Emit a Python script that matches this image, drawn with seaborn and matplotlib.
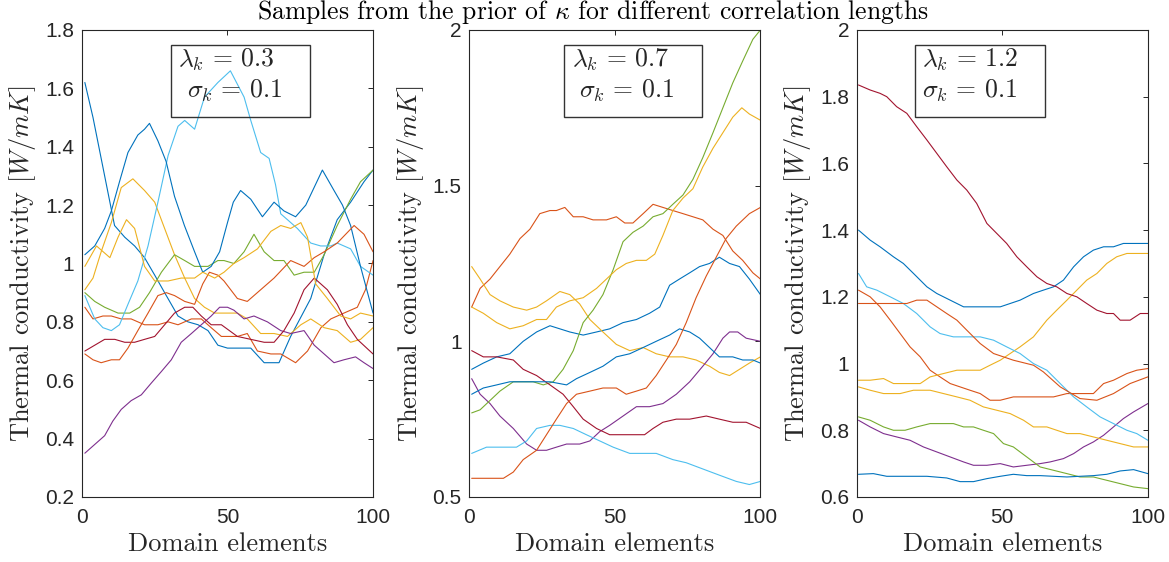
import numpy as np
import pandas as pd
import matplotlib
matplotlib.use("Agg")
import matplotlib.pyplot as plt
import seaborn as sns
from matplotlib.patches import Rectangle

# MATLAB default line colour order
BLUE, ORANGE, YELLOW, PURPLE = "#0072BD", "#D95319", "#EDB120", "#7E2F8E"
GREEN, CYAN, DARKRED = "#77AC30", "#4DBEEE", "#A2142F"

# ---------------- panel 1 (lambda = 0.3) ----------------
p1_blue_a_x = [1, 3.8, 7.2, 11.2, 14.7, 18.1, 21.5, 25, 28.4, 33, 36.4, 39.9, 43.3, 46.7, 50, 53.4, 58, 62.6, 67.7, 71.7, 78.6, 83.2, 87.7, 92.3, 96.9, 100]
p1_blue_a_y = [1.62, 1.50, 1.33, 1.13, 1.09, 1.06, 1.02, 0.96, 0.90, 0.82, 0.80, 0.79, 0.77, 0.72, 0.71, 0.71, 0.71, 0.66, 0.66, 0.75, 0.88, 1.03, 1.15, 1.21, 1.28, 1.32]
p1_orange_a_x = [1, 3.8, 7.2, 10.1, 13.5, 16.9, 21.5, 26.1, 29.6, 33, 37.6, 41, 44.4, 47.9, 53.4, 56.8, 60.3, 64.9, 68.3, 73.4, 77.5, 82.1, 85.5, 90, 94.6, 97.4, 100]
p1_orange_a_y = [0.85, 0.81, 0.82, 0.82, 0.81, 0.81, 0.79, 0.79, 0.80, 0.79, 0.81, 0.81, 0.78, 0.75, 0.75, 0.76, 0.70, 0.69, 0.69, 0.66, 0.70, 0.78, 0.81, 0.83, 0.85, 0.91, 1.01]
p1_yellow_a_x = [1, 3.8, 6.6, 10.1, 13.5, 17.5, 21.5, 25, 28.4, 31.8, 35.3, 38.7, 42.1, 45.6, 48.8, 53.4, 56.8, 61.4, 66, 70.6, 75.2, 78.6, 83.2, 87.7, 92.3, 95.7, 100]
p1_yellow_a_y = [0.91, 0.95, 1.04, 1.14, 1.26, 1.29, 1.25, 1.21, 1.12, 1.03, 0.95, 0.88, 0.85, 0.83, 0.83, 0.83, 0.81, 0.76, 0.76, 0.75, 0.79, 0.81, 0.78, 0.77, 0.73, 0.74, 0.78]
p1_purple_x = [1, 4.4, 7.8, 10.6, 13.5, 16.9, 20.4, 23.8, 27.3, 30.7, 34.1, 37.6, 41, 44.4, 47.3, 50, 52.2, 55.7, 59.1, 63.7, 68.3, 71.7, 76.3, 79.8, 83.2, 86.6, 90, 94, 96.9, 100]
p1_purple_y = [0.35, 0.38, 0.41, 0.46, 0.50, 0.53, 0.55, 0.59, 0.63, 0.67, 0.73, 0.76, 0.79, 0.82, 0.85, 0.85, 0.84, 0.81, 0.82, 0.80, 0.77, 0.76, 0.77, 0.72, 0.69, 0.66, 0.67, 0.68, 0.66, 0.64]
p1_green_x = [1, 4.4, 7.8, 12.4, 16.4, 19.8, 23.2, 27.3, 31.8, 35.3, 38.7, 43.3, 46.7, 48.8, 52.2, 55.7, 59.1, 62.6, 66, 69.4, 72.9, 76.3, 79.8, 83.2, 87.7, 92.3, 95.7, 100]
p1_green_y = [0.90, 0.87, 0.85, 0.83, 0.83, 0.85, 0.90, 0.97, 1.03, 1.01, 0.99, 0.99, 1.01, 1.01, 1.00, 1.04, 1.10, 1.04, 1.01, 1.01, 0.96, 0.97, 0.97, 1.03, 1.13, 1.22, 1.28, 1.32]
p1_cyan_x = [1, 4.4, 7.2, 10.1, 12.9, 15.8, 19.2, 22.7, 26.1, 29.6, 33, 35.3, 38.7, 42.1, 46.7, 51, 55.7, 58, 61.4, 64.3, 66.5, 68.3, 70.6, 74, 78.6, 82, 85.5, 87.7, 92.3, 95.7, 100]
p1_cyan_y = [0.89, 0.81, 0.78, 0.77, 0.79, 0.86, 0.94, 1.06, 1.21, 1.37, 1.47, 1.49, 1.46, 1.57, 1.62, 1.66, 1.57, 1.49, 1.38, 1.36, 1.27, 1.17, 1.15, 1.12, 1.07, 1.06, 1.06, 1.07, 1.05, 0.99, 0.96]
p1_darkred_x = [1, 4.4, 7.8, 11.3, 14.7, 18.1, 21.5, 25, 28.4, 31.8, 35.3, 38.1, 41, 44.4, 47.9, 53.4, 58, 62.6, 66, 69.4, 72.9, 76.3, 79.8, 84.3, 87.7, 91.2, 94.6, 100]
p1_darkred_y = [0.70, 0.72, 0.74, 0.74, 0.73, 0.73, 0.74, 0.75, 0.79, 0.83, 0.85, 0.85, 0.82, 0.79, 0.79, 0.75, 0.74, 0.73, 0.73, 0.77, 0.83, 0.91, 0.95, 0.91, 0.86, 0.79, 0.74, 0.69]
p1_blue_b_x = [1, 4.4, 7.8, 10.1, 12.9, 15.8, 19.2, 21.5, 23.2, 26.1, 28.9, 31.8, 35.2, 38.7, 41.5, 44.4, 47.3, 50, 52, 54.5, 58, 62, 66, 69.4, 73.4, 76.9, 82.6, 86.6, 89.5, 92.3, 95.7, 100]
p1_blue_b_y = [1.03, 1.06, 1.12, 1.18, 1.28, 1.38, 1.44, 1.46, 1.48, 1.42, 1.35, 1.23, 1.13, 1.04, 0.97, 0.99, 1.04, 1.14, 1.21, 1.25, 1.22, 1.16, 1.21, 1.18, 1.16, 1.20, 1.32, 1.25, 1.20, 1.13, 0.99, 0.83]
p1_orange_b_x = [1, 3.8, 6.6, 10.1, 12.9, 15.8, 19.2, 22.7, 26.1, 29, 31.8, 35.3, 38.7, 41.5, 43.8, 46.7, 48.8, 53.4, 56.8, 61.4, 66, 71.7, 76.3, 79.8, 83.2, 87.7, 93.5, 96.9, 100]
p1_orange_b_y = [0.69, 0.67, 0.66, 0.67, 0.67, 0.71, 0.77, 0.83, 0.89, 0.90, 0.89, 0.87, 0.86, 0.93, 0.97, 0.96, 0.94, 0.88, 0.87, 0.91, 0.95, 1.01, 0.99, 1.02, 1.04, 1.07, 1.13, 1.10, 1.04]
p1_yellow_b_x = [1, 5, 9.6, 12.4, 15.3, 18.1, 21.5, 25, 29.6, 34.1, 38.7, 41.5, 45.6, 48.8, 52.2, 55.7, 60.3, 64.9, 68.3, 71.7, 75.2, 77.5, 80.3, 84.3, 88.9, 92.3, 95.7, 100]
p1_yellow_b_y = [0.99, 1.06, 1.02, 1.09, 1.15, 1.12, 0.99, 0.94, 0.94, 0.95, 0.95, 0.97, 0.95, 0.97, 1.00, 1.02, 1.05, 1.11, 1.13, 1.12, 1.14, 1.09, 0.93, 0.88, 0.82, 0.81, 0.83, 0.82]

# ---------------- panel 2 (lambda = 0.7) ----------------
p2_blue_a_x = [0.8, 4.8, 9.4, 13.9, 18.5, 23.1, 27.7, 31.1, 34.5, 39.1, 43.7, 48.2, 52.8, 57.4, 61.9, 65.4, 68.8, 72.2, 75.7, 79.1, 82.5, 85.9, 89.4, 92.8, 96.2, 100]
p2_blue_a_y = [0.91, 0.93, 0.95, 0.96, 1.00, 1.03, 1.05, 1.04, 1.03, 1.02, 1.03, 1.04, 1.06, 1.07, 1.09, 1.11, 1.18, 1.20, 1.22, 1.24, 1.25, 1.27, 1.25, 1.24, 1.20, 1.15]
p2_orange_a_x = [0.8, 3.7, 7.1, 10.5, 13.9, 17.4, 20.8, 24.2, 27.7, 29.9, 32.8, 35.7, 39.1, 42.5, 47.1, 50.5, 53.4, 56.2, 59.7, 63.1, 66.5, 69.9, 73.4, 76.8, 80.2, 83.7, 87.1, 90.5, 93.9, 97.4, 100]
p2_orange_a_y = [1.11, 1.17, 1.20, 1.24, 1.28, 1.33, 1.36, 1.41, 1.42, 1.42, 1.43, 1.40, 1.40, 1.39, 1.39, 1.40, 1.38, 1.38, 1.41, 1.44, 1.43, 1.42, 1.41, 1.40, 1.39, 1.36, 1.34, 1.29, 1.26, 1.22, 1.20]
p2_yellow_a_x = [0.8, 3.7, 7.1, 10.5, 15.1, 19.7, 23.1, 26.5, 31.1, 34.5, 37.9, 41.4, 45.9, 50.5, 55.1, 59.7, 64.2, 68.8, 73.4, 77.9, 82.5, 85.9, 89.4, 92.8, 96.2, 100]
p2_yellow_a_y = [1.24, 1.20, 1.15, 1.13, 1.11, 1.10, 1.11, 1.13, 1.16, 1.15, 1.12, 1.07, 1.03, 0.99, 0.97, 0.98, 0.96, 0.95, 0.95, 0.94, 0.92, 0.90, 0.89, 0.91, 0.93, 0.95]
p2_purple_x = [0.8, 3.7, 7.1, 10.5, 15.1, 19.7, 23.1, 26.5, 29.9, 33.4, 37.9, 41.4, 44.8, 48.2, 52.8, 57.4, 61.9, 66.5, 71.1, 75.7, 80.2, 83.7, 87.1, 89.4, 92.2, 95.1, 100]
p2_purple_y = [0.88, 0.83, 0.80, 0.76, 0.72, 0.67, 0.65, 0.65, 0.66, 0.67, 0.67, 0.68, 0.71, 0.73, 0.76, 0.79, 0.79, 0.80, 0.83, 0.87, 0.92, 0.96, 1.01, 1.03, 1.03, 1.01, 1.00]
p2_green_x = [0.8, 3.7, 7.1, 10.5, 15.1, 18.5, 21.9, 25.4, 28.8, 32.2, 35.7, 39.1, 42.5, 45.9, 49.4, 52.8, 56.2, 59.7, 63.1, 66.5, 69.9, 73.4, 76.8, 80.2, 83.7, 87.1, 90.5, 93.9, 97.4, 100]
p2_green_y = [0.77, 0.78, 0.81, 0.84, 0.87, 0.87, 0.87, 0.86, 0.87, 0.91, 0.97, 1.06, 1.10, 1.15, 1.23, 1.32, 1.35, 1.37, 1.40, 1.41, 1.44, 1.47, 1.52, 1.59, 1.67, 1.75, 1.83, 1.90, 1.97, 2.00]
p2_cyan_x = [0.8, 5.9, 10.5, 16.2, 19.7, 23.1, 27.7, 31.1, 35.7, 40.2, 44.8, 49.4, 55.1, 59.7, 64.2, 69.9, 74.5, 80.2, 85.9, 91.7, 96.2, 100]
p2_cyan_y = [0.64, 0.66, 0.66, 0.66, 0.68, 0.72, 0.73, 0.73, 0.72, 0.70, 0.68, 0.66, 0.64, 0.64, 0.64, 0.62, 0.61, 0.59, 0.57, 0.55, 0.54, 0.55]
p2_darkred_x = [0.8, 4.8, 9.4, 15.1, 18.5, 23.1, 27.7, 32.2, 35.7, 39.1, 43.7, 48.2, 52.8, 56.2, 60.2, 63.1, 66.5, 71.1, 75.7, 81.4, 85.9, 90.5, 95.1, 100]
p2_darkred_y = [0.97, 0.95, 0.95, 0.94, 0.91, 0.89, 0.86, 0.83, 0.79, 0.75, 0.72, 0.70, 0.70, 0.70, 0.70, 0.72, 0.74, 0.75, 0.75, 0.76, 0.75, 0.74, 0.74, 0.72]
p2_blue_b_x = [0.8, 4.8, 9.4, 13.9, 18.5, 23.1, 27.7, 33.4, 36.8, 41.4, 45.9, 50.5, 55.1, 59.7, 64.2, 68.8, 72.2, 75.7, 79.1, 82.5, 85.9, 90.5, 93.9, 97.4, 100]
p2_blue_b_y = [0.83, 0.85, 0.86, 0.87, 0.87, 0.87, 0.87, 0.86, 0.88, 0.90, 0.92, 0.95, 0.96, 0.98, 1.00, 1.02, 1.04, 1.03, 1.01, 0.98, 0.95, 0.95, 0.94, 0.94, 0.93]
p2_orange_b_x = [0.8, 5.9, 11.7, 15.1, 18.5, 23.1, 26.5, 29.9, 33.4, 36.8, 41.4, 45.9, 50.5, 53.9, 57.4, 60.8, 64.2, 67.7, 71.1, 74.5, 77.9, 81.4, 84.8, 88.2, 91.7, 96.2, 100]
p2_orange_b_y = [0.56, 0.56, 0.56, 0.58, 0.62, 0.65, 0.70, 0.75, 0.80, 0.83, 0.84, 0.85, 0.85, 0.83, 0.84, 0.85, 0.89, 0.94, 0.99, 1.06, 1.14, 1.21, 1.27, 1.33, 1.37, 1.41, 1.43]
p2_yellow_b_x = [0.8, 4.8, 9.4, 13.9, 18.5, 23.1, 26.5, 29.9, 34.5, 39.1, 43.7, 47.1, 50.5, 53.9, 57.4, 60.8, 63.7, 66.5, 69.9, 73.4, 76.8, 80.2, 83.7, 87.1, 90.5, 93.6, 96.2, 100]
p2_yellow_b_y = [1.11, 1.09, 1.06, 1.04, 1.05, 1.07, 1.07, 1.11, 1.13, 1.14, 1.17, 1.20, 1.23, 1.25, 1.26, 1.26, 1.28, 1.34, 1.42, 1.46, 1.49, 1.56, 1.62, 1.67, 1.72, 1.75, 1.73, 1.71]

# ---------------- panel 3 (lambda = 1.2) ----------------
p3_blue_a_x = [0.6, 4.6, 8.0, 12.6, 16.0, 19.5, 24.1, 27.5, 32.1, 36.7, 41.2, 45.8, 49.3, 52.7, 56.1, 60.7, 64.1, 67.6, 71.0, 74.5, 77.9, 81.3, 84.8, 88.2, 91.6, 95.1, 97.4, 100]
p3_blue_a_y = [1.40, 1.37, 1.35, 1.32, 1.30, 1.27, 1.23, 1.21, 1.19, 1.17, 1.17, 1.17, 1.17, 1.18, 1.19, 1.21, 1.22, 1.23, 1.25, 1.29, 1.32, 1.34, 1.35, 1.35, 1.36, 1.36, 1.36, 1.36]
p3_orange_a_x = [0.6, 4.6, 8.0, 11.5, 14.9, 18.3, 21.8, 25.2, 28.6, 32.1, 35.5, 38.9, 42.4, 45.8, 49.3, 53.8, 58.4, 63.0, 67.6, 72.2, 76.7, 81.3, 84.8, 88.2, 92.8, 96.2, 100]
p3_orange_a_y = [1.22, 1.20, 1.17, 1.13, 1.09, 1.05, 1.02, 0.98, 0.96, 0.94, 0.93, 0.92, 0.91, 0.89, 0.89, 0.90, 0.90, 0.90, 0.90, 0.91, 0.91, 0.91, 0.94, 0.95, 0.97, 0.98, 0.985]
p3_yellow_a_x = [0.6, 4.6, 9.2, 12.6, 17.2, 21.8, 25.2, 29.8, 34.4, 38.9, 42.4, 45.8, 49.3, 52.7, 56.1, 60.7, 65.3, 68.7, 72.2, 75.6, 79.0, 82.5, 85.9, 89.3, 92.8, 96.2, 100]
p3_yellow_a_y = [0.95, 0.95, 0.955, 0.94, 0.94, 0.94, 0.96, 0.97, 0.98, 0.98, 0.98, 0.995, 1.01, 1.03, 1.05, 1.08, 1.13, 1.16, 1.19, 1.22, 1.25, 1.27, 1.30, 1.32, 1.33, 1.33, 1.33]
p3_purple_x = [0.6, 4.6, 9.2, 13.7, 18.3, 22.9, 27.5, 32.1, 36.7, 40.1, 44.7, 49.3, 53.8, 58.4, 63.0, 66.4, 71.0, 74.5, 77.9, 81.3, 84.8, 88.2, 91.6, 95.1, 100]
p3_purple_y = [0.83, 0.81, 0.79, 0.78, 0.77, 0.75, 0.735, 0.72, 0.705, 0.695, 0.695, 0.70, 0.69, 0.695, 0.70, 0.705, 0.715, 0.73, 0.75, 0.765, 0.785, 0.81, 0.835, 0.855, 0.88]
p3_green_x = [0.6, 4.6, 9.2, 12.6, 16.6, 20.6, 25.2, 29.8, 33.2, 36.7, 40.1, 43.5, 47.0, 50.4, 53.8, 58.4, 63.0, 67.6, 72.2, 76.7, 81.3, 85.9, 90.5, 95.1, 100]
p3_green_y = [0.84, 0.83, 0.81, 0.80, 0.80, 0.81, 0.82, 0.82, 0.82, 0.81, 0.81, 0.80, 0.79, 0.76, 0.75, 0.72, 0.69, 0.68, 0.67, 0.66, 0.66, 0.65, 0.64, 0.63, 0.625]
p3_cyan_x = [0.6, 3.4, 6.9, 11.5, 16.0, 20.6, 25.2, 28.6, 33.2, 37.8, 42.4, 47.0, 51.5, 56.1, 60.7, 65.3, 69.9, 74.5, 79.0, 83.6, 88.2, 92.8, 96.2, 100]
p3_cyan_y = [1.27, 1.23, 1.22, 1.20, 1.18, 1.15, 1.11, 1.09, 1.08, 1.08, 1.08, 1.07, 1.05, 1.03, 1.00, 0.98, 0.94, 0.90, 0.87, 0.84, 0.82, 0.80, 0.79, 0.77]
p3_darkred_x = [0.6, 4.6, 8.0, 10.3, 13.7, 17.2, 20.6, 24.1, 27.5, 30.9, 34.4, 37.8, 41.2, 44.7, 48.1, 51.5, 55.0, 58.4, 61.9, 65.3, 68.7, 72.2, 75.6, 79.0, 82.5, 85.9, 88.2, 90.5, 93.9, 97.4, 100]
p3_darkred_y = [1.835, 1.82, 1.81, 1.80, 1.77, 1.75, 1.71, 1.67, 1.63, 1.59, 1.55, 1.52, 1.48, 1.42, 1.39, 1.36, 1.32, 1.29, 1.26, 1.24, 1.23, 1.21, 1.20, 1.18, 1.16, 1.15, 1.15, 1.13, 1.13, 1.15, 1.15]
p3_blue_b_x = [0.6, 5.7, 10.3, 17.2, 24.1, 30.9, 35.5, 40.1, 44.7, 49.3, 53.8, 58.4, 63.0, 67.6, 72.2, 76.7, 81.3, 85.9, 90.5, 95.1, 100]
p3_blue_b_y = [0.668, 0.67, 0.662, 0.662, 0.662, 0.657, 0.646, 0.646, 0.655, 0.662, 0.668, 0.664, 0.664, 0.662, 0.66, 0.662, 0.664, 0.668, 0.678, 0.682, 0.67]
p3_orange_b_x = [0.6, 5.7, 11.5, 17.2, 20.6, 24.1, 27.5, 30.9, 34.4, 37.8, 42.4, 47.0, 53.8, 60.7, 64.1, 69.9, 76.7, 82.5, 88.2, 93.9, 100]
p3_orange_b_y = [1.18, 1.18, 1.18, 1.18, 1.19, 1.19, 1.17, 1.15, 1.13, 1.10, 1.06, 1.03, 1.01, 0.995, 0.975, 0.93, 0.895, 0.89, 0.91, 0.94, 0.96]
p3_yellow_b_x = [0.6, 4.6, 9.2, 14.9, 19.5, 25.2, 29.8, 34.4, 38.9, 43.5, 48.1, 52.7, 57.3, 60.7, 65.3, 68.7, 72.2, 76.7, 81.3, 85.9, 90.5, 95.1, 100]
p3_yellow_b_y = [0.93, 0.92, 0.91, 0.91, 0.92, 0.92, 0.91, 0.90, 0.89, 0.87, 0.86, 0.85, 0.83, 0.81, 0.81, 0.80, 0.79, 0.79, 0.78, 0.77, 0.76, 0.75, 0.75]

# tick labels
x_ticks = [0, 50, 100]
p1_yticks = [0.2, 0.4, 0.6, 0.8, 1.0, 1.2, 1.4, 1.6, 1.8]
p1_ytick_labels = ["0.2", "0.4", "0.6", "0.8", "1", "1.2", "1.4", "1.6", "1.8"]
p2_yticks = [0.5, 1.0, 1.5, 2.0]
p2_ytick_labels = ["0.5", "1", "1.5", "2"]
p3_yticks = [0.6, 0.8, 1.0, 1.2, 1.4, 1.6, 1.8, 2.0]
p3_ytick_labels = ["0.6", "0.8", "1", "1.2", "1.4", "1.6", "1.8", "2"]
lambdas = ["0.3", "0.7", "1.2"]
sigmas = ["0.1", "0.1", "0.1"]

color_order = [BLUE, ORANGE, YELLOW, PURPLE, GREEN, CYAN, DARKRED, BLUE, ORANGE, YELLOW]
names = ["blue_a", "orange_a", "yellow_a", "purple", "green", "cyan", "darkred", "blue_b", "orange_b", "yellow_b"]


def panel_frame(prefix):
    g = globals()
    rows = []
    for i, n in enumerate(names):
        xs = g[f"{prefix}_{n}_x"]
        ys = g[f"{prefix}_{n}_y"]
        rows.append(pd.DataFrame({"x": xs, "y": ys, "sample": i}))
    return pd.concat(rows, ignore_index=True)


sns.set_style("white")
plt.rcParams["font.family"] = ["Liberation Sans", "DejaVu Sans"]
plt.rcParams["mathtext.fontset"] = "cm"

INK = "#262626"
LABEL_FONT = "cmr10"

fig = plt.figure(figsize=(11.69, 5.62), dpi=100)
lefts = [0.0701, 0.4015, 0.7329]
panels = [
    ("p1", (0.2, 1.8), p1_yticks, p1_ytick_labels),
    ("p2", (0.5, 2.0), p2_yticks, p2_ytick_labels),
    ("p3", (0.6, 2.0), p3_yticks, p3_ytick_labels),
]
box_x = [(0.306, 0.784), (0.324, 0.799), (0.200, 0.647)]
lam_x = [0.331, 0.351, 0.223]
sig_x = [0.360, 0.377, 0.223]

for k, (prefix, ylim, yt, ytl) in enumerate(panels):
    ax = fig.add_axes([lefts[k], 0.1157, 0.249, 0.8310])
    df = panel_frame(prefix)
    sns.lineplot(data=df, x="x", y="y", hue="sample", palette=color_order,
                 estimator=None, sort=False, legend=False, linewidth=0.8, ax=ax)
    ax.set_xlim(0, 100)
    ax.set_ylim(*ylim)
    ax.set_xticks(x_ticks)
    ax.set_xticklabels([str(t) for t in x_ticks])
    ax.set_yticks(yt)
    ax.set_yticklabels(ytl)
    ax.tick_params(direction="in", length=3.5, width=0.7, top=True, right=True,
                   labelsize=15, colors=INK)
    ax.tick_params(axis="y", pad=5.5)
    ax.tick_params(axis="x", pad=8)
    for sp in ax.spines.values():
        sp.set_color(INK)
        sp.set_linewidth(0.8)
    ax.set_xlabel("Domain elements", fontfamily=LABEL_FONT, fontsize=19, color=INK, labelpad=4)
    ax.set_ylabel(r"Thermal conductivity $[W/mK]$", fontfamily=LABEL_FONT, fontsize=19,
                  color=INK, labelpad=5)

    # annotation box (transparent, lines show through like the original)
    x0, x1 = box_x[k]
    ax.add_patch(Rectangle((x0, 0.8146), x1 - x0, 0.968 - 0.8146, transform=ax.transAxes,
                           facecolor="none", edgecolor="#333333", linewidth=1.0, zorder=5))
    ax.text(lam_x[k], 0.9214, r"$\lambda_k \,=\, %s$" % lambdas[k], transform=ax.transAxes,
            ha="left", va="baseline", fontsize=18.5, zorder=6)
    ax.text(sig_x[k], 0.855, r"$\sigma_k \,=\, %s$" % sigmas[k], transform=ax.transAxes,
            ha="left", va="baseline", fontsize=18.5, zorder=6)

fig.text(0.507, 0.9655, r"Samples from the prior of $\kappa$ for different correlation lengths",
         ha="center", va="baseline", fontfamily=LABEL_FONT, fontsize=18.5, color="black")

fig.savefig("out.png", dpi=100)
